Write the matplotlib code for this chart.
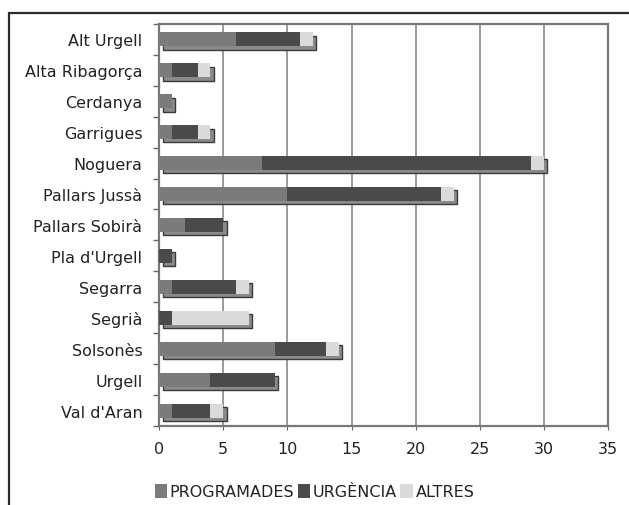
import matplotlib
matplotlib.use("Agg")
import matplotlib.pyplot as plt
from matplotlib.patches import Rectangle, Patch
import numpy as np

regions = ["Alt Urgell", "Alta Ribagorça", "Cerdanya", "Garrigues", "Noguera",
           "Pallars Jussà", "Pallars Sobirà", "Pla d'Urgell", "Segarra", "Segrià",
           "Solsonès", "Urgell", "Val d'Aran"]
programades = [6, 1, 1, 1, 8, 10, 2, 0, 1, 0, 9, 4, 1]
urgencia = [5, 2, 0, 2, 21, 12, 3, 1, 5, 1, 4, 5, 3]
altres = [1, 1, 0, 1, 1, 1, 0, 0, 1, 6, 1, 0, 1]

series = [("PROGRAMADES", programades, "#7b7b7b"),
          ("URGÈNCIA", urgencia, "#4a4a4a"),
          ("ALTRES", altres, "#dadada")]

fig = plt.figure(figsize=(6.29, 5.06), dpi=100)
fig.patch.set_facecolor("white")

# outer frame around the chart
fig.patches.append(Rectangle((0.014, -0.1), 1.2, 1.072, transform=fig.transFigure,
                             fill=False, edgecolor="#2a2a2a", linewidth=1.6))

ax = fig.add_axes([0.253, 0.156, 0.714, 0.795])
y = np.arange(len(regions))
h = 0.45
totals = np.array(programades) + np.array(urgencia) + np.array(altres)

# shadow behind each bar
for yi, tot in zip(y, totals):
    ax.add_patch(Rectangle((0.3, yi - h / 2 + 0.11), tot - 0.05, h,
                           facecolor="#8a8a8a", edgecolor="#3a3a3a",
                           linewidth=1.0, zorder=2))

left = np.zeros(len(regions))
for name, vals, col in series:
    ax.barh(y, vals, left=left, height=h, color=col, zorder=3, label=name)
    left += np.array(vals)

ax.set_xlim(0, 35)
ax.set_ylim(len(regions) - 0.5, -0.5)
ax.set_xticks(np.arange(0, 36, 5))
ax.set_yticks(y)
ax.set_yticklabels(regions)
ax.set_yticks(np.arange(len(regions) + 1) - 0.5, minor=True)
ax.tick_params(axis="y", which="major", length=0, pad=12, labelsize=11.5, labelcolor="#222")
ax.tick_params(axis="y", which="minor", length=4, color="#666", width=1)
ax.tick_params(axis="x", length=3, color="#666", pad=8, labelsize=11.5, labelcolor="#222")
ax.grid(True, axis="x", color="#8a8a8a", linewidth=1.2, zorder=0)
ax.set_axisbelow(True)
for spine in ax.spines.values():
    spine.set_edgecolor("#777")
    spine.set_linewidth(1.6)

handles = [Patch(facecolor=col, edgecolor="none", label=name) for name, _, col in series]
fig.legend(handles=handles, loc="center", bbox_to_anchor=(0.5, 0.027), ncol=3,
           frameon=False, handlelength=0.8, handleheight=1.0, handletextpad=0.15,
           columnspacing=0.2, fontsize=11.5, labelcolor="#222")

fig.savefig("out.png", dpi=100, facecolor="white")
